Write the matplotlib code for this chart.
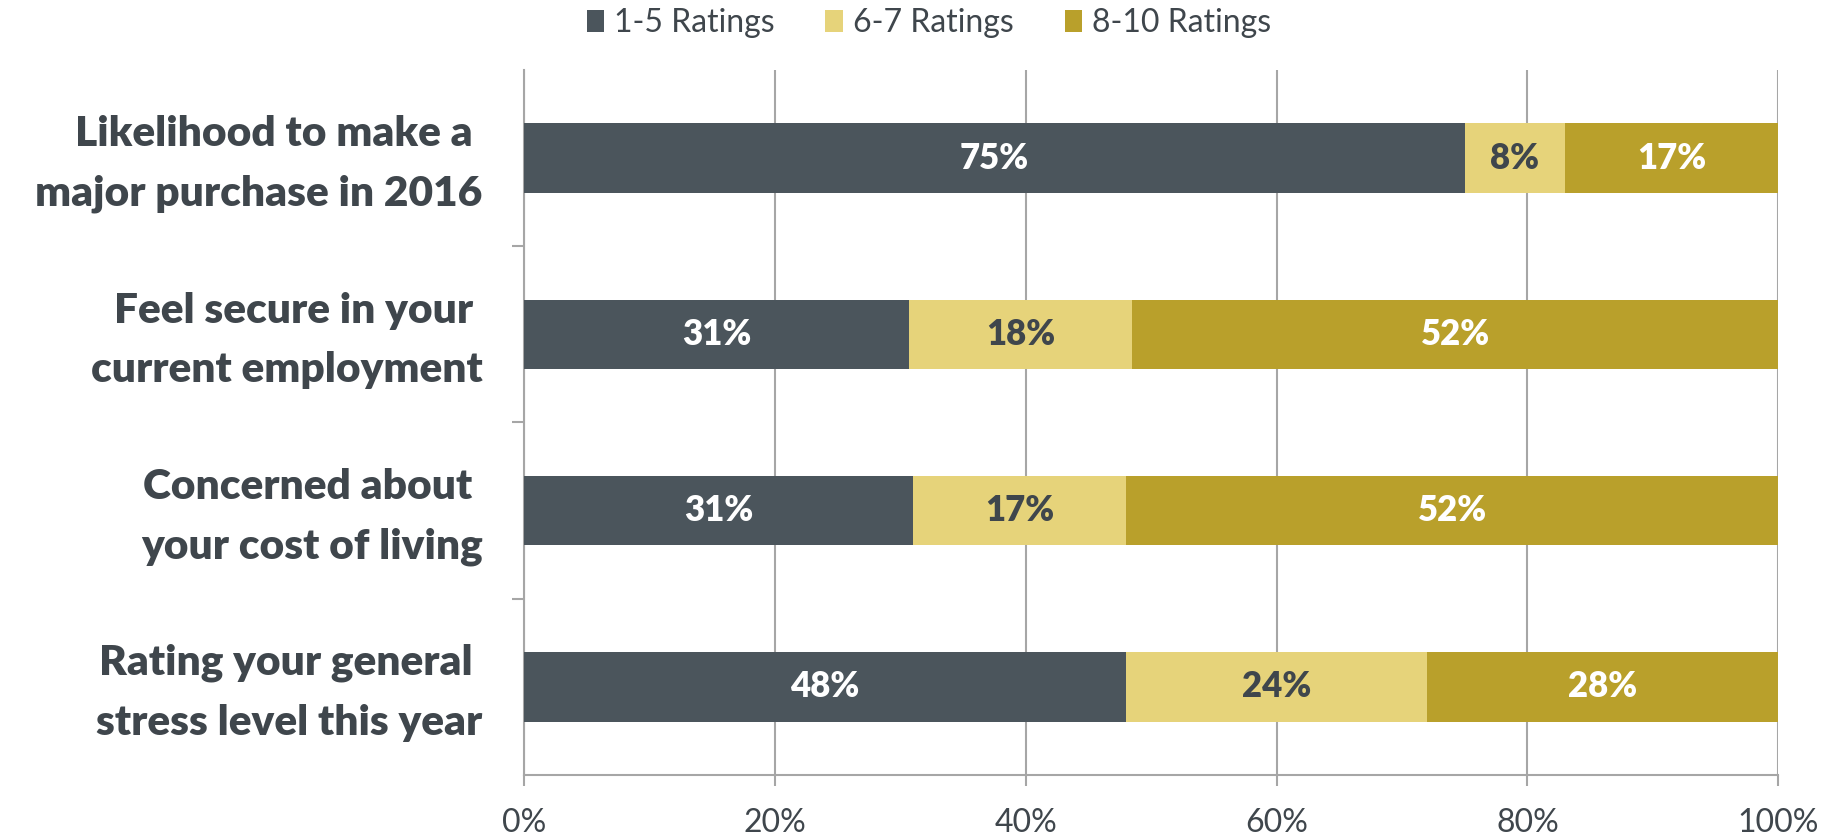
import numpy as np
import matplotlib.pyplot as plt
import matplotlib.transforms as mtransforms

# Survey data (percent of respondents)
categories = ['Likelihood to make a \nmajor purchase in 2016',
              'Feel secure in your \ncurrent employment',
              'Concerned about \nyour cost of living',
              'Rating your general \nstress level this year']
low_ratings = [75, 30.7, 31, 48]
mid_ratings = [8, 17.8, 17, 24]
high_ratings = [17, 51.5, 52, 28]
series_names = ['1-5 Ratings', '6-7 Ratings', '8-10 Ratings']
x_ticks = [0, 20, 40, 60, 80, 100]

colors = ['#4B555C', '#E6D37A', '#B9A02B']
label_colors = ['white', '#3F464C', 'white']
text_color = '#3F464C'
grid_color = '#A6A6A6'

plt.rcParams['font.family'] = ['Lato', 'DejaVu Sans']

fig = plt.figure(figsize=(18.39, 8.39), dpi=100)
ax = fig.add_axes([0.285, 0.0763, 0.682, 0.8403])

y = np.arange(len(categories))[::-1]
left = np.zeros(len(categories))
series = [low_ratings, mid_ratings, high_ratings]
for vals, name, col, lcol in zip(series, series_names, colors, label_colors):
    vals = np.array(vals, dtype=float)
    ax.barh(y, vals, left=left, height=0.395, color=col, label=name, zorder=3)
    for yi, l, v in zip(y, left, vals):
        ax.text(l + v / 2, yi, '{:.0f}%'.format(v), ha='center', va='center',
                color=lcol, fontsize=25, fontweight='heavy', zorder=4)
    left += vals

ax.set_xlim(0, 100)
ax.set_ylim(-0.5, len(categories) - 0.5)
ax.set_xticks(x_ticks)
ax.set_xticklabels(['{}%'.format(t) for t in x_ticks], fontsize=23, color=text_color)
ax.set_yticks(y)
ax.set_yticklabels(categories, fontsize=30.5, fontweight='heavy', color=text_color,
                   linespacing=1.7)
ax.tick_params(axis='y', length=0, pad=30)
ax.set_yticks(np.arange(len(categories) - 1) + 0.5, minor=True)
ax.tick_params(axis='y', which='minor', length=9, color=grid_color, width=1.5)
ax.tick_params(axis='x', length=8, color=grid_color, width=1.5, pad=16)

# nudge the two-line category labels up a little so they sit on the bar centre
shift = mtransforms.ScaledTranslation(0, 6 / 72, fig.dpi_scale_trans)
for lbl in ax.get_yticklabels():
    lbl.set_transform(lbl.get_transform() + shift)

ax.grid(axis='x', color=grid_color, linewidth=1.5, zorder=0)
for s in ['top', 'right']:
    ax.spines[s].set_visible(False)
for s in ['left', 'bottom']:
    ax.spines[s].set_color(grid_color)
    ax.spines[s].set_linewidth(1.5)

fig.legend(loc='center', bbox_to_anchor=(0.505, 0.972), ncol=3, frameon=False,
           fontsize=23, handlelength=0.55, handleheight=0.7, handletextpad=0.3,
           columnspacing=1.6, labelcolor=text_color)

fig.savefig('out.png', dpi=100)
